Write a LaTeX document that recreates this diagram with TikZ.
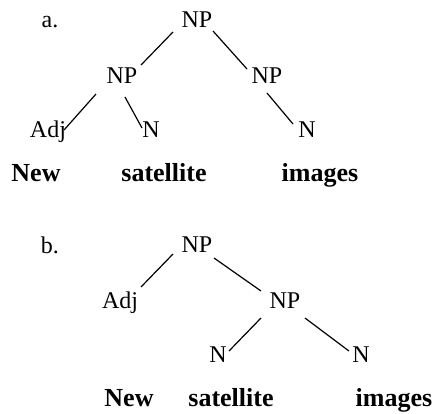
\documentclass[tikz,border=0pt]{standalone}
\usepackage{fontspec}
\setmainfont{Liberation Serif}
\usetikzlibrary{calc}
\tikzset{
  lab/.style={anchor=base, inner sep=0pt, font=\fontsize{24}{28}\selectfont},
  word/.style={anchor=base, inner sep=0pt, font=\fontsize{26}{30}\selectfont\bfseries},
  branch/.style={line width=1.2pt}
}
\begin{document}
\begin{tikzpicture}[x=1pt,y=-1pt]
\useasboundingbox (0,0) rectangle (437,413);
% panel a
\node[lab] (la) at (50,27) {a.};
\node[lab] (npa) at (197,27) {NP};
\node[lab] (npl) at (122,83) {NP};
\node[lab] (adja) at (48,137) {Adj};
\node[lab] (na1) at (151,137) {N};
\node[lab] (npr) at (267,83) {NP};
\node[lab] (na2) at (307,137) {N};
\node[word] (newa) at (36,181) {New};
\node[word] (sata) at (164,181) {satellite};
\node[word] (imga) at (320,181) {images};
\draw[branch] ($(npa.base)+(-24,5)$) -- ($(npl.base)+(19,-18)$);
\draw[branch] ($(npl.base)+(-26,11)$) -- ($(adja.base)+(16,-7)$);
\draw[branch] ($(npl.base)+(3,14)$) -- ($(na1.base)+(-9,-9)$);
\draw[branch] ($(npa.base)+(16,4)$) -- ($(npr.base)+(-20,-14)$);
\draw[branch] ($(npr.base)+(0,10)$) -- ($(na2.base)+(-14,-13)$);
% panel b
\node[lab] (lb) at (50,253) {b.};
\node[lab] (npb) at (197,252) {NP};
\node[lab] (adjb) at (120,308) {Adj};
\node[lab] (npm) at (285,308) {NP};
\node[lab] (nb1) at (218,362) {N};
\node[lab] (nb2) at (361,362) {N};
\node[word] (newb) at (129,406) {New};
\node[word] (satb) at (231,406) {satellite};
\node[word] (imgb) at (394,406) {images};
\draw[branch] ($(npb.base)+(-24,2)$) -- ($(adjb.base)+(21,-21)$);
\draw[branch] ($(npb.base)+(17,6)$) -- ($(npm.base)+(-24,-17)$);
\draw[branch] ($(npm.base)+(-24,10)$) -- ($(nb1.base)+(11,-11)$);
\draw[branch] ($(npm.base)+(20,10)$) -- ($(nb2.base)+(-12,-11)$);
\end{tikzpicture}
\end{document}
